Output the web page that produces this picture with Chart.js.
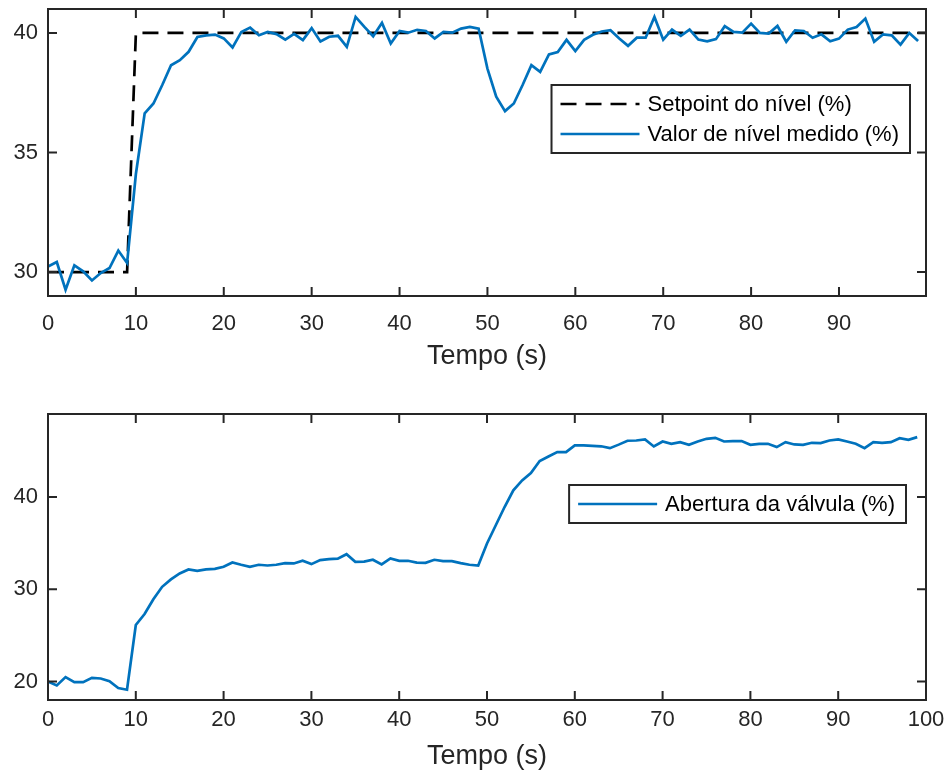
<!DOCTYPE html>
<html>
<head>
<meta charset="utf-8">
<script src="https://cdn.jsdelivr.net/npm/chart.js@4.4.1/dist/chart.umd.min.js"></script>
<style>
  html, body { margin: 0; padding: 0; background: #ffffff; }
  #wrap { position: relative; width: 947px; height: 778px; overflow: hidden; }
  #c1 { position: absolute; left: 0; top: 0; }
  #c2 { position: absolute; left: 0; top: 389px; }
</style>
</head>
<body>
<div id="wrap">
  <canvas id="c1" width="947" height="373"></canvas>
  <canvas id="c2" width="947" height="384"></canvas>
</div>
<script>
// ---------------- DATA ----------------
const timeSeconds = [0,1,2,3,4,5,6,7,8,9,10,11,12,13,14,15,16,17,18,19,20,21,22,23,24,25,26,27,28,29,
  30,31,32,33,34,35,36,37,38,39,40,41,42,43,44,45,46,47,48,49,50,51,52,53,54,55,56,57,58,59,
  60,61,62,63,64,65,66,67,68,69,70,71,72,73,74,75,76,77,78,79,80,81,82,83,84,85,86,87,88,89,
  90,91,92,93,94,95,96,97,98,99];

const setpointTime  = [0, 9, 10, 99.9];
const setpointLevel = [30, 30, 40, 40];

const measuredLevel = [
  30.23,30.42,29.26,30.28,30.03,29.65,29.96,30.17,30.90,30.38,
  34.10,36.64,37.05,37.82,38.65,38.86,39.21,39.83,39.90,39.93,
  39.77,39.39,40.04,40.22,39.90,40.04,39.95,39.72,39.96,39.70,
  40.20,39.64,39.84,39.88,39.42,40.67,40.25,39.86,40.42,39.56,
  40.08,40.01,40.13,40.08,39.77,40.04,40.01,40.18,40.25,40.18,
  38.51,37.33,36.73,37.05,37.82,38.65,38.37,39.10,39.20,39.71,
  39.24,39.71,39.92,40.06,40.11,39.77,39.46,39.80,39.80,40.67,
  39.72,40.14,39.88,40.14,39.72,39.65,39.74,40.28,40.04,40.01,
  40.39,40.00,39.97,40.29,39.63,40.11,40.08,39.80,39.94,39.65,
  39.76,40.14,40.25,40.60,39.63,39.94,39.90,39.51,40.00,39.66
];

const valveOpening = [
  20.00,19.57,20.48,19.93,19.93,20.40,20.33,20.04,19.29,19.11,
  26.13,27.32,28.91,30.27,31.07,31.72,32.15,32.00,32.15,32.22,
  32.44,32.91,32.66,32.44,32.66,32.58,32.66,32.84,32.80,33.10,
  32.73,33.17,33.27,33.32,33.80,32.97,33.00,33.20,32.69,33.34,
  33.09,33.09,32.90,32.87,33.20,33.05,33.05,32.84,32.66,32.58,
  34.96,36.94,38.92,40.72,41.80,42.60,43.90,44.40,44.87,44.87,
  45.60,45.60,45.55,45.50,45.30,45.68,46.10,46.13,46.24,45.48,
  46.02,45.77,45.95,45.66,46.02,46.31,46.42,46.02,46.06,46.06,
  45.66,45.77,45.77,45.41,45.95,45.70,45.66,45.88,45.84,46.13,
  46.24,46.02,45.77,45.30,45.95,45.88,45.95,46.38,46.20,46.49
];

const xTicksTop    = [0,10,20,30,40,50,60,70,80,90];
const xTicksBottom = [0,10,20,30,40,50,60,70,80,90,100];
const yTicksTop    = [30,35,40];
const yTicksBottom = [20,30,40];

const labelSetpoint = 'Setpoint do nível (%)';
const labelMeasured = 'Valor de nível medido (%)';
const labelValve    = 'Abertura da válvula (%)';
const xAxisTitle    = 'Tempo (s)';

// ---------------- STYLE ----------------
const FONT = "'Liberation Sans', Arial, Helvetica, sans-serif";
const AX = '#262626';
const BLUE = '#0072BD';
const TICK_FONT = 22;
const TITLE_FONT = 27;
const LEGEND_FONT = 22;

const toXY = (xs, ys) => xs.map((x, i) => ({ x: x, y: ys[i] }));

const framePlugin = {
  id: 'frameTicks',
  afterDatasetsDraw(chart) {
    const { ctx, chartArea: a, scales } = chart;
    ctx.save();
    ctx.strokeStyle = AX;
    ctx.lineWidth = 2;
    ctx.strokeRect(a.left, a.top, a.right - a.left, a.bottom - a.top);
    const L = 9;
    ctx.beginPath();
    scales.x.ticks.forEach(t => {
      const p = scales.x.getPixelForValue(t.value);
      ctx.moveTo(p, a.bottom); ctx.lineTo(p, a.bottom - L);
      ctx.moveTo(p, a.top);    ctx.lineTo(p, a.top + L);
    });
    scales.y.ticks.forEach(t => {
      const p = scales.y.getPixelForValue(t.value);
      ctx.moveTo(a.left, p);  ctx.lineTo(a.left + L, p);
      ctx.moveTo(a.right, p); ctx.lineTo(a.right - L, p);
    });
    ctx.stroke();
    ctx.restore();
  }
};

const boxLegendPlugin = {
  id: 'boxLegend',
  afterDraw(chart, args, opts) {
    const { ctx, chartArea: a } = chart;
    const ds = chart.data.datasets;
    ctx.save();
    ctx.font = LEGEND_FONT + 'px ' + FONT;
    const textW = Math.max(...ds.map(d => ctx.measureText(d.label).width));
    const padL = 9, lineLen = 79, gap = 8, padR = 11;
    const w = padL + lineLen + gap + textW + padR;
    const h = opts.height;
    const right = a.right - opts.right;
    const left = right - w;
    const top = a.top + opts.top;
    ctx.fillStyle = '#ffffff';
    ctx.fillRect(left, top, w, h);
    ctx.strokeStyle = AX;
    ctx.lineWidth = 2;
    ctx.strokeRect(left, top, w, h);
    const rowH = opts.rowH;
    const firstY = top + h / 2 - (ds.length - 1) * rowH / 2;
    ds.forEach((d, i) => {
      const y = firstY + i * rowH;
      ctx.beginPath();
      ctx.strokeStyle = d.borderColor;
      ctx.lineWidth = d.borderWidth;
      ctx.setLineDash(d.borderDash || []);
      ctx.moveTo(left + padL, y);
      ctx.lineTo(left + padL + lineLen, y);
      ctx.stroke();
      ctx.setLineDash([]);
      ctx.fillStyle = '#000000';
      ctx.textAlign = 'left';
      ctx.textBaseline = 'middle';
      ctx.fillText(d.label, left + padL + lineLen + gap, y + 1);
    });
    ctx.restore();
  }
};

function makeOptions(xMin, xMax, yMin, yMax, xTicks, yTicks, xHeight, xPad, legendOpts, padTop) {
  return {
    responsive: false,
    animation: false,
    events: [],
    layout: { padding: { left: 0, right: 21, top: padTop, bottom: 0 } },
    plugins: { legend: { display: false }, tooltip: { enabled: false }, boxLegend: legendOpts },
    elements: { point: { radius: 0 }, line: { tension: 0 } },
    scales: {
      x: {
        type: 'linear', min: xMin, max: xMax, bounds: 'data',
        grid: { display: false, drawTicks: false }, border: { display: false },
        afterBuildTicks: s => { s.ticks = xTicks.map(v => ({ value: v })); },
        afterFit: s => { s.height = xHeight; s.paddingLeft = 0; s.paddingRight = 0; },
        ticks: { color: AX, padding: xPad, maxRotation: 0, autoSkip: false,
                 font: { family: FONT, size: TICK_FONT }, callback: v => String(v) },
        title: { display: true, text: xAxisTitle, color: AX, padding: 0,
                 font: { family: FONT, size: TITLE_FONT } }
      },
      y: {
        type: 'linear', min: yMin, max: yMax, bounds: 'data',
        grid: { display: false, drawTicks: false }, border: { display: false },
        afterBuildTicks: s => { s.ticks = yTicks.map(v => ({ value: v })); },
        afterFit: s => { s.width = 48; s.paddingTop = 0; s.paddingBottom = 0; },
        ticks: { color: AX, padding: 10, autoSkip: false,
                 font: { family: FONT, size: TICK_FONT }, callback: v => String(v) }
      }
    }
  };
}

new Chart(document.getElementById('c1'), {
  type: 'line',
  data: {
    datasets: [
      { label: labelSetpoint, data: toXY(setpointTime, setpointLevel), borderColor: '#000000',
        borderWidth: 2.7, borderDash: [16, 9], fill: false, order: 1 },
      { label: labelMeasured, data: toXY(timeSeconds, measuredLevel), borderColor: BLUE,
        borderWidth: 2.7, fill: false, order: 0 }
    ]
  },
  options: makeOptions(0, 99.9, 29, 41, xTicksTop, yTicksTop, 77, 15,
    { right: 16, top: 76, height: 68, rowH: 30 }, 9),
  plugins: [framePlugin, boxLegendPlugin]
});

new Chart(document.getElementById('c2'), {
  type: 'line',
  data: {
    datasets: [
      { label: labelValve, data: toXY(timeSeconds, valveOpening), borderColor: BLUE,
        borderWidth: 2.7, fill: false }
    ]
  },
  options: makeOptions(0, 100, 18, 49, xTicksBottom, yTicksBottom, 73, 7,
    { right: 20, top: 71, height: 38, rowH: 30 }, 25),
  plugins: [framePlugin, boxLegendPlugin]
});
</script>
</body>
</html>
